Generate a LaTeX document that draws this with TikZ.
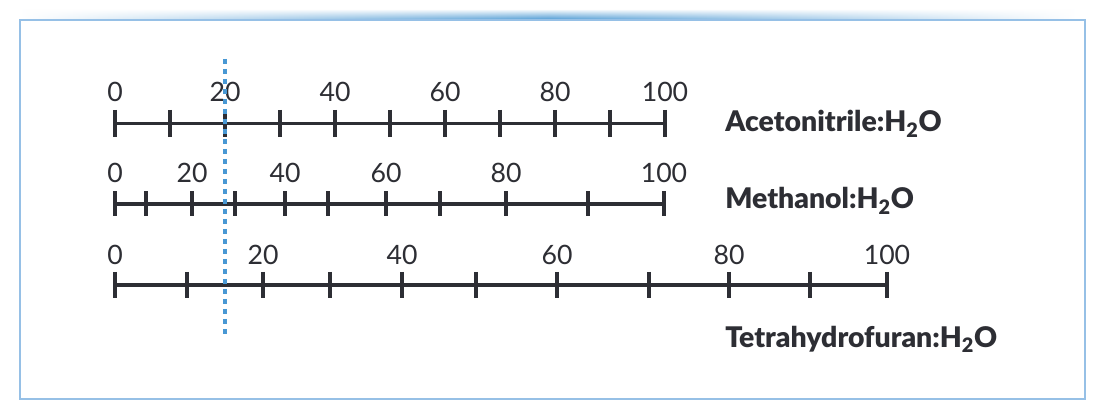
\documentclass[tikz,border=0pt]{standalone}
\usepackage{fontspec}
\setmainfont{Lato}
\newfontfamily\heavyfont{Lato Black}
\usepackage{tikz}
\usetikzlibrary{fadings}
\definecolor{scalegray}{RGB}{45,46,52}
\definecolor{frameblue}{RGB}{150,192,230}
\definecolor{bandblue}{RGB}{70,150,210}
\definecolor{markblue}{RGB}{72,152,212}

\tikzset{
  scaleline/.style={line width=2.7pt,scalegray},
  ticknum/.style={anchor=base,inner sep=0pt,text=scalegray,font=\fontsize{20}{24}\selectfont},
  solvent/.style={anchor=base west,inner sep=0pt,text=scalegray,font=\fontsize{21.3}{25}\heavyfont}
}

\begin{document}
\begin{tikzpicture}[x=0.75pt,y=-0.75pt]
  \useasboundingbox (0,0) rectangle (1098,402);
  \fill[white] (0,0) rectangle (1098,402);
  % top band and frame
  \shade[left color=white,right color=white,middle color=bandblue,path fading=north] (20,9) rectangle (1076,20);
  \draw[frameblue,line width=1.2pt] (20,20) rectangle (1085,399);

  % acetonitrile
  \draw[scaleline] (115,123.5) -- (665,123.5);
  \foreach \i in {0,...,10}
    \draw[scaleline] (115+55*\i,110) -- (115+55*\i,137);
  \foreach \v in {0,20,...,100}
    \node[ticknum] (acn\v) at (115+5.5*\v,101.5) {\v};
  \node[solvent] (acn) at (725,132) {Acetonitrile:H\textsubscript{2}O};

  % methanol
  \draw[scaleline] (115,204) -- (664,204);
  \foreach \x in {115,146,192,235,285,328,386,440,506,588,664}
    \draw[scaleline] (\x,191.5) -- (\x,216.5);
  \foreach \x/\v in {115/0,192/20,285/40,386/60,506/80,664/100}
    \node[ticknum] (meoh\v) at (\x,182.5) {\v};
  \node[solvent] (meoh) at (725,209) {Methanol:H\textsubscript{2}O};

  % tetrahydrofuran
  \draw[scaleline] (115,285) -- (887,285);
  \foreach \x in {115,187,263,330,402,476,557,649,729,810,887}
    \draw[scaleline] (\x,272) -- (\x,298);
  \foreach \x/\v in {115/0,263/20,402/40,557/60,729/80,887/100}
    \node[ticknum] (thf\v) at (\x,264.5) {\v};
  \node[solvent] (thf) at (725,347) {Tetrahydrofuran:H\textsubscript{2}O};

  % equal strength marker
  \draw[markblue,line width=3pt,dash pattern=on 4pt off 3.5pt] (225,59) -- (225,334);
\end{tikzpicture}
\end{document}
